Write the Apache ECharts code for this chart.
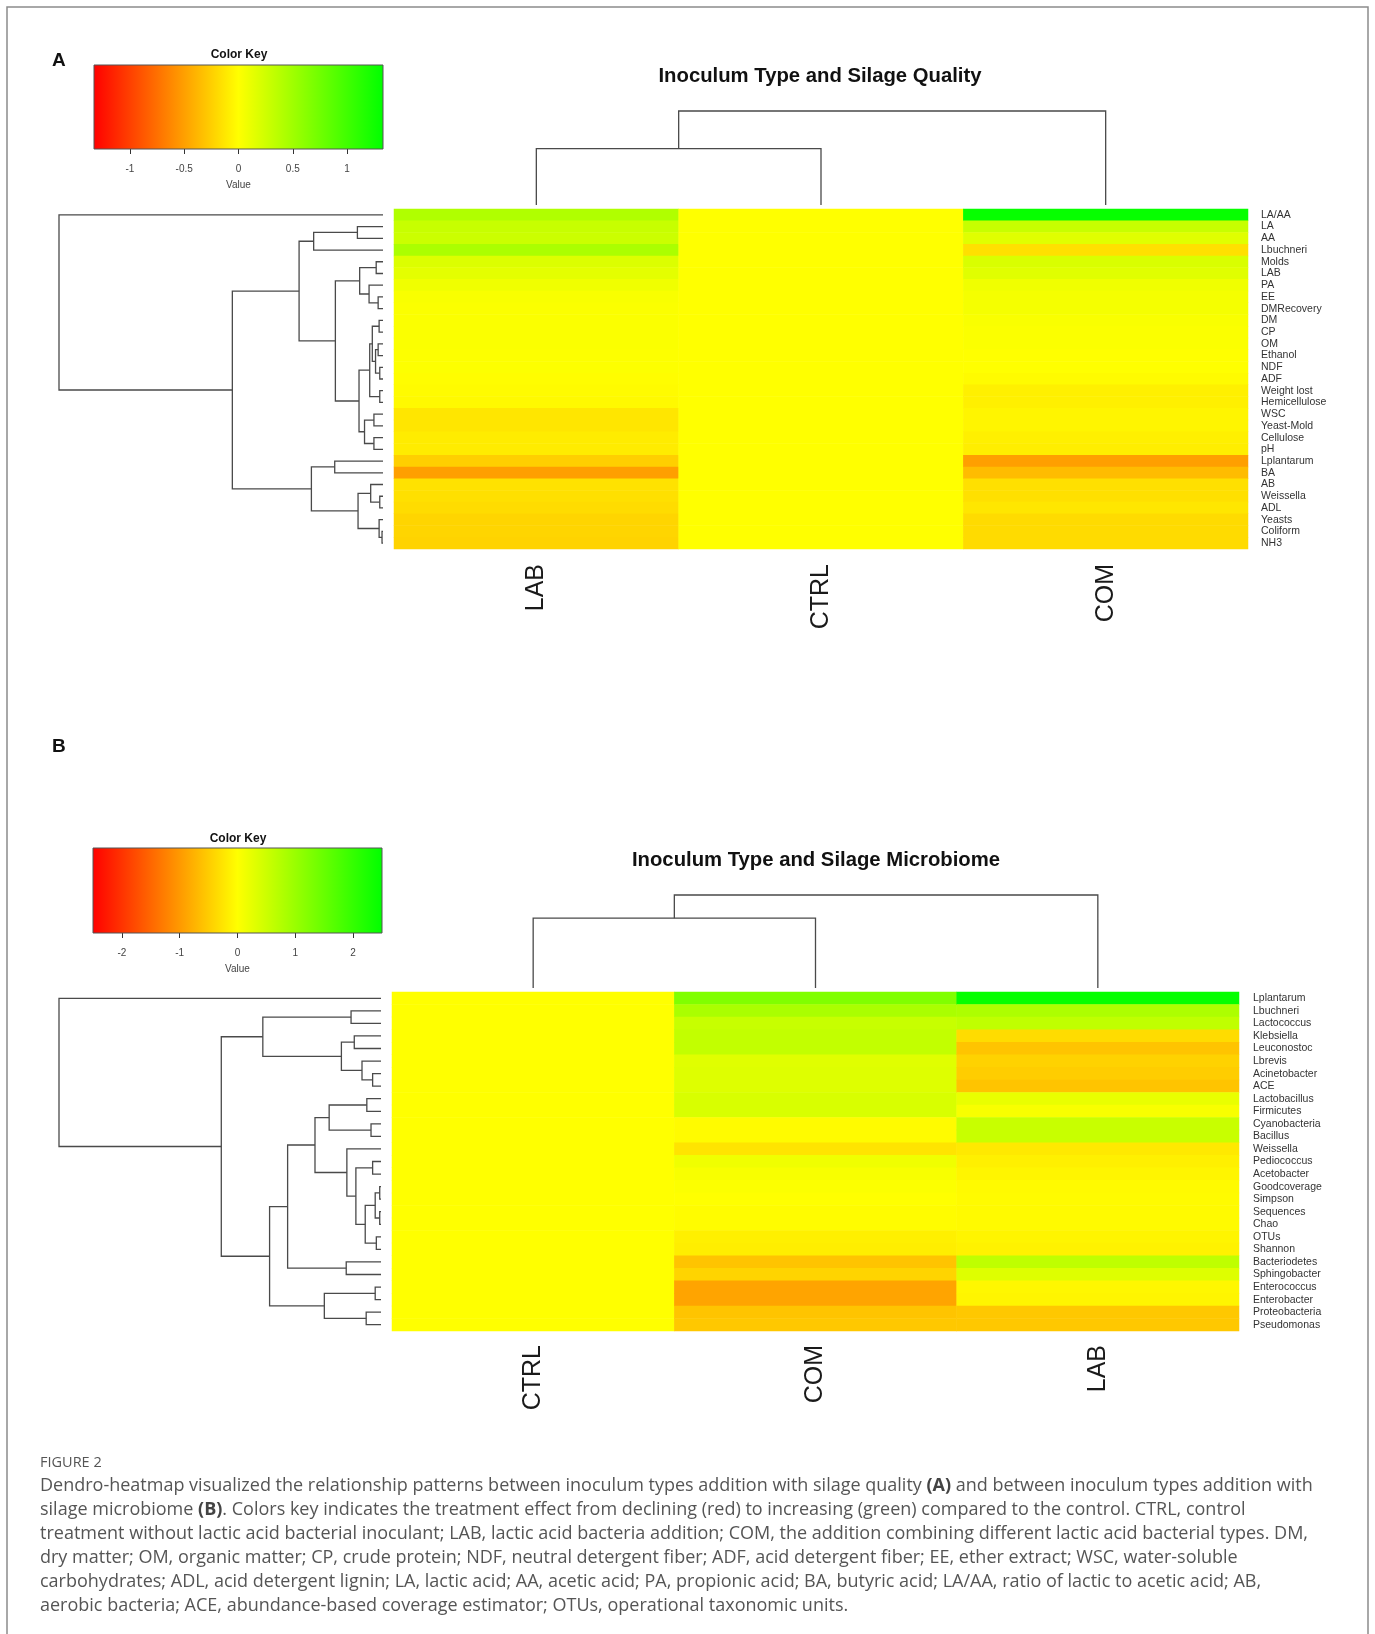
<!DOCTYPE html>
<html><head><meta charset="utf-8">
<script src="https://cdn.jsdelivr.net/npm/echarts@6/dist/echarts.min.js"></script>
<style>html,body{margin:0;padding:0;background:#fff}#c{width:1375px;height:1634px}</style>
</head><body><div id="c"></div>
<script>
// ---------------- Panel A data ----------------
const colsA = ['LAB', 'CTRL', 'COM'];
const rowsA = ['LA/AA','LA','AA','Lbuchneri','Molds','LAB','PA','EE','DMRecovery','DM','CP','OM','Ethanol','NDF','ADF','Weight lost','Hemicellulose','WSC','Yeast-Mold','Cellulose','pH','Lplantarum','BA','AB','Weissella','ADL','Yeasts','Coliform','NH3'];
const valsA_LAB  = [0.41,0.29,0.27,0.44,0.18,0.14,0.08,0.03,0.02,0.02,0.02,0.02,0.01,0.01,-0.01,-0.02,-0.03,-0.13,-0.13,-0.10,-0.10,-0.25,-0.50,-0.15,-0.16,-0.18,-0.22,-0.22,-0.23];
const valsA_CTRL = [0,0,0,0,0,0,0,0,0,0,0,0,0,0,0,0,0,0,0,0,0,0,0,0,0,0,0,0,0];
const valsA_COM  = [1.30,0.29,0.16,-0.16,0.20,0.16,0.08,0.05,0.05,0.03,0.02,0.02,0.00,0.00,-0.02,-0.08,-0.08,-0.05,-0.05,-0.08,-0.09,-0.50,-0.35,-0.16,-0.16,-0.13,-0.19,-0.19,-0.19];
// hclust-style merges: negative = leaf (1-based row), positive = earlier merge (1-based); [a, b, height]
const rowMergesA = [[-2,-3,0.79],[1,-4,2.14],[-5,-6,0.21],[-8,-9,0.15],[-7,4,0.43],[3,5,0.72],[-10,-11,0.12],[-12,-13,0.15],[-14,-15,0.10],[8,9,0.23],[7,10,0.33],[-16,-17,0.10],[11,12,0.41],[-18,-19,0.28],[-20,-21,0.28],[14,15,0.57],[13,16,0.74],[6,17,1.47],[2,18,2.59],[-22,-23,1.49],[-25,-26,0.10],[-24,21,0.38],[-28,-29,0.03],[-27,23,0.12],[22,24,0.77],[20,25,2.21],[19,26,4.65],[-1,27,10]];
const colMergesA = [[-1,-2,5.99],[1,-3,10]];
const keyRangeA = [-1.33, 1.33];
const keyTicksA = [-1, -0.5, 0, 0.5, 1];

// ---------------- Panel B data ----------------
const colsB = ['CTRL', 'COM', 'LAB'];
const rowsB = ['Lplantarum','Lbuchneri','Lactococcus','Klebsiella','Leuconostoc','Lbrevis','Acinetobacter','ACE','Lactobacillus','Firmicutes','Cyanobacteria','Bacillus','Weissella','Pediococcus','Acetobacter','Goodcoverage','Simpson','Sequences','Chao','OTUs','Shannon','Bacteriodetes','Sphingobacter','Enterococcus','Enterobacter','Proteobacteria','Pseudomonas'];
const valsB_CTRL = [0,0,0,0,0,0,0,0,0,0,0,0,0,0,0,0,0,0,0,0,0,0,0,0,0,0,0];
const valsB_COM  = [1.25,0.83,0.55,0.60,0.60,0.30,0.32,0.32,0.38,0.38,-0.04,-0.04,-0.26,0.15,0.07,0.03,0.00,-0.03,-0.03,-0.15,-0.17,-0.58,-0.42,-0.89,-0.89,-0.58,-0.54];
const valsB_LAB  = [2.45,0.80,0.62,-0.34,-0.58,-0.44,-0.49,-0.58,0.22,0.07,0.54,0.54,-0.22,-0.15,-0.10,-0.05,-0.04,-0.05,-0.05,-0.10,-0.13,0.63,0.32,-0.08,-0.10,-0.54,-0.54];
const rowMergesB = [[-2,-3,0.93],[-4,-5,0.83],[-7,-8,0.26],[-6,3,0.59],[2,4,1.23],[1,5,3.67],[-9,-10,0.44],[-11,-12,0.31],[7,8,1.61],[-14,-15,0.26],[-16,-17,0.04],[-18,-19,0.04],[11,12,0.18],[-20,-21,0.145],[13,14,0.49],[10,15,0.78],[-13,16,1.06],[9,17,2.05],[-22,-23,1.08],[18,19,2.90],[-24,-25,0.18],[-26,-27,0.46],[21,22,1.76],[20,23,3.46],[6,24,4.96],[-1,25,10]];
const colMergesB = [[-1,-2,7.51],[1,-3,10]];
const keyRangeB = [-2.5, 2.5];
const keyTicksB = [-2, -1, 0, 1, 2];

const keyColors = ['#FF0000', '#FFFF00', '#00FF00'];

// ---------------- helpers ----------------
function heatData(cols) {
  const out = [];
  cols.forEach((col, ci) => col.forEach((v, ri) => out.push([ci, ri, v])));
  return out;
}
function dendroSegments(merges, rowWise) {
  const pos = [], hgt = [];
  const P = r => r < 0 ? (-r - 1) : pos[r - 1];
  const H = r => r < 0 ? 0 : hgt[r - 1];
  return merges.map(([a, b, h], i) => {
    const pa = P(a), pb = P(b), ha = H(a), hb = H(b);
    pos[i] = (pa + pb) / 2; hgt[i] = h;
    const pts = [[ha, pa], [h, pa], [h, pb], [hb, pb]];
    return (rowWise ? pts : pts.map(([x, y]) => [y, x])).flat();
  });
}
function renderDendro(params, api) {
  const pts = [0, 1, 2, 3].map(k => api.coord([api.value(2 * k), api.value(2 * k + 1)]));
  return { type: 'polyline', shape: { points: pts }, style: { stroke: '#4a4a4a', lineWidth: 1.3, fill: null } };
}
function renderKey(params, api) {
  const p0 = api.coord([api.value(0), 1]);
  const p1 = api.coord([api.value(1), 0]);
  return {
    type: 'rect',
    shape: { x: p0[0], y: p0[1], width: p1[0] - p0[0], height: p1[1] - p0[1] },
    style: {
      fill: new echarts.graphic.LinearGradient(0, 0, 1, 0, keyColors.map((c, i) => ({ offset: i / (keyColors.length - 1), color: c }))),
      stroke: '#555', lineWidth: 1
    }
  };
}
const FONT = 'Liberation Sans, Arial, sans-serif';
const hidden = { show: false };

function heatX(gi, cols, margin) {
  return { type: 'category', gridIndex: gi, data: cols, position: 'bottom',
    axisLine: hidden, axisTick: hidden, splitLine: hidden,
    axisLabel: { rotate: 90, fontSize: 25, margin: margin, color: '#1a1a1a', fontFamily: FONT, interval: 0 } };
}
function heatY(gi, rows, margin) {
  return { type: 'category', gridIndex: gi, data: rows, inverse: true, position: 'right',
    axisLine: hidden, axisTick: hidden, splitLine: hidden,
    axisLabel: { fontSize: 10.5, margin: margin, color: '#333', fontFamily: FONT, interval: 0 } };
}
function keyX(gi, range, ticks) {
  return { type: 'value', gridIndex: gi, min: range[0], max: range[1],
    axisLine: hidden, splitLine: hidden,
    axisTick: { show: true, customValues: ticks, length: 5, lineStyle: { color: '#333' } },
    axisLabel: { customValues: ticks, fontSize: 10, margin: 15, color: '#444', fontFamily: FONT },
    name: 'Value', nameLocation: 'middle', nameGap: 31,
    nameTextStyle: { fontSize: 10, color: '#444', fontFamily: FONT } };
}
const hv = (gi, min, max, inverse) => ({ type: 'value', gridIndex: gi, min, max, inverse: !!inverse, show: false });
const rowMaxA = Math.max(...rowMergesA.map(m => m[2]));
const colMaxA = Math.max(...colMergesA.map(m => m[2]));
const rowMaxB = Math.max(...rowMergesB.map(m => m[2]));
const colMaxB = Math.max(...colMergesB.map(m => m[2]));

const caption = [
  'Dendro-heatmap visualized the relationship patterns between inoculum types addition with silage quality {b|(A)} and between inoculum types addition with',
  'silage microbiome {b|(B)}. Colors key indicates the treatment effect from declining (red) to increasing (green) compared to the control. CTRL, control',
  'treatment without lactic acid bacterial inoculant; LAB, lactic acid bacteria addition; COM, the addition combining different lactic acid bacterial types. DM,',
  'dry matter; OM, organic matter; CP, crude protein; NDF, neutral detergent fiber; ADF, acid detergent fiber; EE, ether extract; WSC, water-soluble',
  'carbohydrates; ADL, acid detergent lignin; LA, lactic acid; AA, acetic acid; PA, propionic acid; BA, butyric acid; LA/AA, ratio of lactic to acetic acid; AB,',
  'aerobic bacteria; ACE, abundance-based coverage estimator; OTUs, operational taxonomic units.'
];

function txt(x, y, text, size, weight, align, color, family) {
  return { type: 'text', x, y, style: { text, fontSize: size, fontWeight: weight || 'normal', fontFamily: family || FONT,
    fill: color || '#111', align: align || 'left', verticalAlign: 'middle', textAlign: align || 'left', textVerticalAlign: 'middle' } };
}

const chart = echarts.init(document.getElementById('c'), null, { renderer: 'canvas' });
chart.setOption({
  animation: false,
  backgroundColor: '#ffffff',
  grid: [
    { left: 394, top: 209, width: 854, height: 340 },
    { left: 59, top: 209, width: 324, height: 340 },
    { left: 394, top: 111, width: 854, height: 94 },
    { left: 94, top: 65, width: 289, height: 84 },
    { left: 392, top: 992, width: 847, height: 339 },
    { left: 59, top: 992, width: 322, height: 339 },
    { left: 392, top: 895, width: 847, height: 93 },
    { left: 93, top: 848, width: 289, height: 85 }
  ],
  xAxis: [
    heatX(0, colsA, 15),
    hv(1, 0, rowMaxA, true),
    hv(2, -0.5, colsA.length - 0.5),
    keyX(3, keyRangeA, keyTicksA),
    heatX(4, colsB, 14),
    hv(5, 0, rowMaxB, true),
    hv(6, -0.5, colsB.length - 0.5),
    keyX(7, keyRangeB, keyTicksB)
  ],
  yAxis: [
    heatY(0, rowsA, 13),
    hv(1, -0.5, rowsA.length - 0.5, true),
    hv(2, 0, colMaxA),
    hv(3, 0, 1),
    heatY(4, rowsB, 14),
    hv(5, -0.5, rowsB.length - 0.5, true),
    hv(6, 0, colMaxB),
    hv(7, 0, 1)
  ],
  visualMap: [
    { show: false, type: 'continuous', seriesIndex: 0, dimension: 2, min: keyRangeA[0], max: keyRangeA[1], inRange: { color: keyColors } },
    { show: false, type: 'continuous', seriesIndex: 4, dimension: 2, min: keyRangeB[0], max: keyRangeB[1], inRange: { color: keyColors } }
  ],
  series: [
    { type: 'heatmap', xAxisIndex: 0, yAxisIndex: 0, data: heatData([valsA_LAB, valsA_CTRL, valsA_COM]), emphasis: { disabled: true }, progressive: 0 },
    { type: 'custom', xAxisIndex: 1, yAxisIndex: 1, renderItem: renderDendro, data: dendroSegments(rowMergesA, true), encode: { x: [0, 2, 4, 6], y: [1, 3, 5, 7] }, silent: true },
    { type: 'custom', xAxisIndex: 2, yAxisIndex: 2, renderItem: renderDendro, data: dendroSegments(colMergesA, false), encode: { x: [0, 2, 4, 6], y: [1, 3, 5, 7] }, silent: true },
    { type: 'custom', xAxisIndex: 3, yAxisIndex: 3, renderItem: renderKey, data: [keyRangeA], encode: { x: [0, 1] }, silent: true },
    { type: 'heatmap', xAxisIndex: 4, yAxisIndex: 4, data: heatData([valsB_CTRL, valsB_COM, valsB_LAB]), emphasis: { disabled: true }, progressive: 0 },
    { type: 'custom', xAxisIndex: 5, yAxisIndex: 5, renderItem: renderDendro, data: dendroSegments(rowMergesB, true), encode: { x: [0, 2, 4, 6], y: [1, 3, 5, 7] }, silent: true },
    { type: 'custom', xAxisIndex: 6, yAxisIndex: 6, renderItem: renderDendro, data: dendroSegments(colMergesB, false), encode: { x: [0, 2, 4, 6], y: [1, 3, 5, 7] }, silent: true },
    { type: 'custom', xAxisIndex: 7, yAxisIndex: 7, renderItem: renderKey, data: [keyRangeB], encode: { x: [0, 1] }, silent: true }
  ],
  graphic: [
    { type: 'rect', shape: { x: 7, y: 7, width: 1361, height: 1650 }, style: { fill: 'none', stroke: '#8c8c8c', lineWidth: 1.5 }, silent: true },
    txt(52, 61, 'A', 19, 'bold'),
    txt(52, 747, 'B', 19, 'bold'),
    txt(239, 55, 'Color Key', 12, 'bold', 'center'),
    txt(238, 839, 'Color Key', 12, 'bold', 'center'),
    txt(820, 76, 'Inoculum Type and Silage Quality', 20.3, 'bold', 'center'),
    txt(816, 860, 'Inoculum Type and Silage Microbiome', 20.3, 'bold', 'center'),
    txt(40, 1463, 'FIGURE 2', 14.5, 'normal', 'left', '#555', 'Open Sans, sans-serif'),
    { type: 'text', x: 40, y: 1474, style: {
        text: caption.join('\n'), fontSize: 18, lineHeight: 24, fontFamily: 'Open Sans, sans-serif', fill: '#555',
        align: 'left', verticalAlign: 'top', textAlign: 'left', textVerticalAlign: 'top',
        rich: { b: { fontWeight: 'bold', fontSize: 18, lineHeight: 24, fontFamily: 'Open Sans, sans-serif', fill: '#444' } } } }
  ]
});
</script>
</body></html>
